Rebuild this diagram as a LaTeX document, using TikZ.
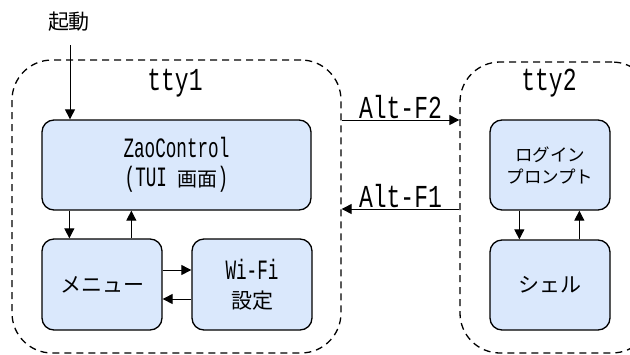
\documentclass[tikz,border=0pt]{standalone}
\usepackage{fontspec}
\setmainfont{Liberation Mono}
\newfontfamily\jp{Noto Sans CJK JP}
\newfontfamily\monoS[FakeStretch=0.63]{Liberation Mono}
\newfontfamily\monoL[FakeStretch=0.72]{Liberation Mono}
\usetikzlibrary{arrows.meta}
\definecolor{boxblue}{HTML}{DAE8FC}
\tikzset{
  boxnode/.style={draw, line width=1.3pt, fill=boxblue, rounded corners=12pt,
    inner sep=0pt, align=center, minimum width=120pt, minimum height=90pt},
  ttybox/.style={draw, line width=1.3pt, dash pattern=on 7pt off 5pt,
    rounded corners=40pt, inner sep=0pt},
  arr/.style={line width=1pt, -{Triangle[length=10pt,width=10pt]}},
  jpbig/.style={font=\jp\fontsize{21}{24}\selectfont},
  jpsmall/.style={font=\jp\fontsize{17.5}{22}\selectfont},
  latS/.style={font=\monoS\fontsize{28}{29}\selectfont},
  latL/.style={font=\monoL\fontsize{32}{32}\selectfont},
}
\begin{document}
\begin{tikzpicture}[x=1pt,y=-1pt]
\useasboundingbox (0,0) rectangle (630,354);
\clip (0,0) rectangle (630,354);
% containers
\node[ttybox, minimum width=329pt, minimum height=293pt] (tty1) at (176.5,206.5) {};
\node[ttybox, minimum width=192pt, minimum height=291pt] (tty2) at (556,207.5) {};
\node[latL] (l1) at (175,83) {tty1};
\node[latL] (l2) at (549,83) {tty2};
% boxes
\node[boxnode, minimum width=269pt, latS] (zao) at (176.5,165)
  {ZaoControl\\({}TUI {\jp\fontsize{20}{29}\selectfont 画面})};
\node[boxnode, minimum height=91pt, jpbig] (menu) at (102,284.5) {メニュー};
\node[boxnode, minimum height=91pt, latS] (wifi) at (252,284.5)
  {Wi-Fi\\{\jp\fontsize{21}{29}\selectfont 設定}};
\node[boxnode, jpsmall] (login) at (550,165) {ログイン\\プロンプト};
\node[boxnode, jpbig] (shell) at (550,285) {シェル};
% start
\node[jpbig] (start) at (69,22) {起動};
\coordinate (s0) at (70,45);
\draw[arr] (s0) -- (s0 |- zao.north);
% arrows tty1
\draw[arr] ([xshift=28pt]zao.south west) -- ([xshift=28pt]menu.north west);
\draw[arr] ([xshift=90pt]menu.north west) -- ([xshift=90pt]zao.south west);
\draw[arr] ([yshift=14.5pt]menu.east) -- ([yshift=14.5pt]wifi.west);
\draw[arr] ([yshift=-14.5pt]wifi.west) -- ([yshift=-14.5pt]menu.east);
% arrows tty2
\draw[arr] ([xshift=30pt]login.south west) -- ([xshift=30pt]shell.north west);
\draw[arr] ([xshift=90pt]shell.north west) -- ([xshift=90pt]login.south west);
% switching
\coordinate (y2) at (0,120);
\coordinate (y1) at (0,209);
\draw[arr] (tty1.east |- y2) -- node[latL, above=-3pt] (f2) {Alt-F2} (tty2.west |- y2);
\draw[arr] (tty2.west |- y1) -- node[latL, above=-3pt] (f1) {Alt-F1} (tty1.east |- y1);
\end{tikzpicture}
\end{document}
